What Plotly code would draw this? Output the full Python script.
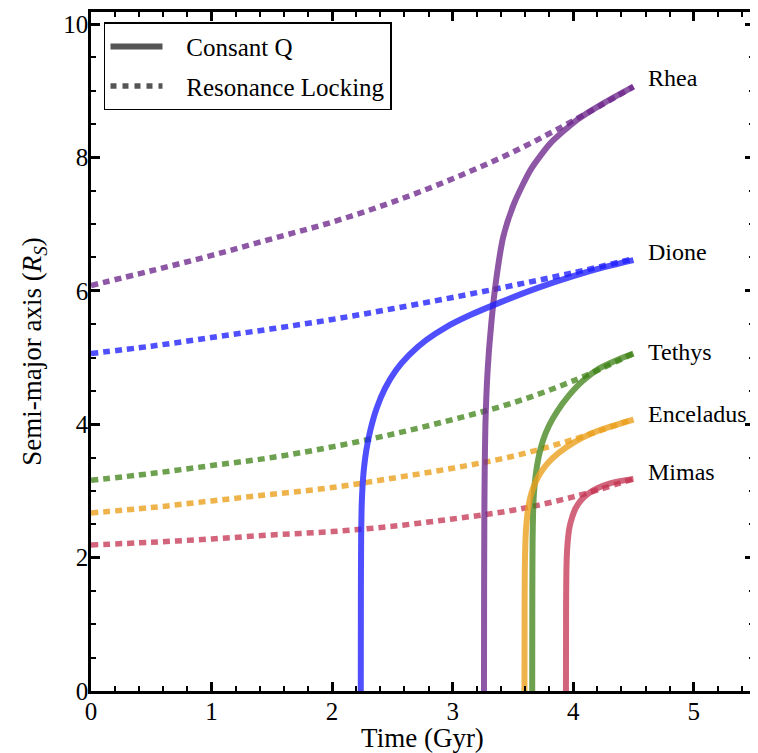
import plotly.graph_objects as go

# ---------------- data ----------------
moons = ["Rhea", "Dione", "Tethys", "Enceladus", "Mimas"]
colors = {
    "Rhea": "rgba(110,40,140,0.78)",
    "Dione": "rgba(30,30,255,0.78)",
    "Tethys": "rgba(60,130,20,0.75)",
    "Enceladus": "rgba(235,160,30,0.80)",
    "Mimas": "rgba(195,50,80,0.75)",
}

# Resonance locking (dashed)
t_rl = [0.0, 0.5, 1.0, 1.5, 2.0, 2.5, 3.0, 3.5, 4.0, 4.5]
rl_rhea = [6.08, 6.30, 6.53, 6.78, 7.03, 7.33, 7.68, 8.08, 8.55, 9.06]
rl_dione = [5.06, 5.17, 5.30, 5.43, 5.57, 5.73, 5.90, 6.08, 6.27, 6.48]
rl_tethys = [3.16, 3.26, 3.38, 3.50, 3.66, 3.85, 4.07, 4.32, 4.65, 5.06]
rl_enceladus = [2.67, 2.75, 2.85, 2.95, 3.05, 3.19, 3.34, 3.52, 3.77, 4.08]
rl_mimas = [2.19, 2.23, 2.28, 2.34, 2.39, 2.47, 2.58, 2.71, 2.91, 3.18]

# Constant Q (solid)
cq_rhea_t = [3.260, 3.261, 3.263, 3.266, 3.272, 3.290, 3.320, 3.360, 3.420, 3.510, 3.645, 3.810, 4.030, 4.250, 4.500]
cq_rhea_a = [0.00, 1.50, 2.60, 3.30, 4.00, 4.80, 5.50, 6.15, 6.81, 7.31, 7.81, 8.21, 8.56, 8.81, 9.06]
cq_dione_t = [2.238, 2.239, 2.241, 2.245, 2.252, 2.265, 2.285, 2.320, 2.370, 2.440, 2.530, 2.640, 2.780, 2.950, 3.150, 3.400, 3.700, 4.000, 4.250, 4.500]
cq_dione_a = [0.00, 1.50, 2.30, 2.75, 3.05, 3.35, 3.62, 3.93, 4.24, 4.54, 4.81, 5.04, 5.26, 5.46, 5.64, 5.83, 6.04, 6.22, 6.35, 6.46]
cq_tethys_t = [3.660, 3.661, 3.663, 3.667, 3.675, 3.690, 3.715, 3.750, 3.800, 3.870, 3.960, 4.080, 4.220, 4.360, 4.500]
cq_tethys_a = [0.00, 1.50, 2.20, 2.65, 2.98, 3.25, 3.52, 3.76, 3.98, 4.20, 4.42, 4.65, 4.84, 4.96, 5.06]
cq_enceladus_t = [3.596, 3.597, 3.599, 3.603, 3.611, 3.625, 3.648, 3.680, 3.725, 3.790, 3.880, 4.000, 4.150, 4.320, 4.500]
cq_enceladus_a = [0.00, 1.30, 1.85, 2.20, 2.48, 2.72, 2.93, 3.10, 3.26, 3.42, 3.57, 3.72, 3.86, 3.97, 4.07]
cq_mimas_t = [3.940, 3.941, 3.943, 3.947, 3.955, 3.968, 3.990, 4.020, 4.065, 4.125, 4.200, 4.300, 4.400, 4.500]
cq_mimas_a = [0.00, 1.20, 1.70, 2.02, 2.25, 2.44, 2.60, 2.74, 2.86, 2.96, 3.04, 3.11, 3.15, 3.18]

label_t = 4.6
label_a = [9.19, 6.58, 5.08, 4.16, 3.28]

x_ticks = [0, 1, 2, 3, 4, 5]
y_ticks = [0, 2, 4, 6, 8, 10]

rl = {"Rhea": rl_rhea, "Dione": rl_dione, "Tethys": rl_tethys,
      "Enceladus": rl_enceladus, "Mimas": rl_mimas}
cq = {"Rhea": (cq_rhea_t, cq_rhea_a), "Dione": (cq_dione_t, cq_dione_a),
      "Tethys": (cq_tethys_t, cq_tethys_a), "Enceladus": (cq_enceladus_t, cq_enceladus_a),
      "Mimas": (cq_mimas_t, cq_mimas_a)}

FONT = "Liberation Serif, Times New Roman, serif"
DASH = "7px,5px"
NB = "\u00a0\u00a0\u00a0"

fig = go.Figure()

for m in moons:
    fig.add_trace(go.Scatter(x=t_rl, y=rl[m], mode="lines", showlegend=False,
                             line=dict(color=colors[m], width=5.5, dash=DASH, shape="spline")))
for m in moons:
    t, a = cq[m]
    fig.add_trace(go.Scatter(x=t, y=a, mode="lines", showlegend=False,
                             line=dict(color=colors[m], width=6, shape="spline", smoothing=0.6)))

# legend proxies
fig.add_trace(go.Scatter(x=[None], y=[None], mode="lines", name=NB + "Consant Q",
                         legendgroup="a",
                         line=dict(color="#555555", width=6)))
fig.add_trace(go.Scatter(x=[None], y=[None], mode="lines", name=NB + "Resonance Locking",
                         legendgroup="b",
                         line=dict(color="#555555", width=5.5, dash="6px,6px")))

for m, ya in zip(moons, label_a):
    fig.add_annotation(x=label_t, y=ya, text=m, showarrow=False, xanchor="left",
                       yanchor="middle", font=dict(family=FONT, size=24, color="black"))

axis_common = dict(
    showgrid=False, zeroline=False, showline=True, linecolor="black", linewidth=2.5,
    mirror="allticks", ticks="inside", ticklen=9, tickwidth=2.5, tickcolor="black",
    tickfont=dict(family=FONT, size=25, color="black"), automargin=False,
)
fig.update_xaxes(range=[0, 5.5], tickvals=x_ticks, ticklabelstandoff=-4,
                 minor=dict(dtick=0.2, ticks="inside", ticklen=5, tickwidth=1.5, tickcolor="black"),
                 title=dict(text="Time (Gyr)", font=dict(family=FONT, size=27, color="black"), standoff=2),
                 **axis_common)
fig.update_yaxes(range=[0, 10.18], tickvals=y_ticks, ticklabelstandoff=-5,
                 minor=dict(dtick=0.5, ticks="inside", ticklen=5, tickwidth=1.5, tickcolor="black"),
                 title=dict(text="Semi-major axis (<i>R</i><sub><i>S</i></sub>)",
                            font=dict(family=FONT, size=27, color="black"), standoff=14),
                 **axis_common)

fig.update_layout(
    width=750, height=745,
    margin=dict(l=83, r=4, t=4, b=62),
    paper_bgcolor="white", plot_bgcolor="white",
    legend=dict(x=0.0196, y=0.985, xanchor="left", yanchor="top",
                bgcolor="white", bordercolor="black", borderwidth=1.5,
                font=dict(family=FONT, size=25, color="black"),
                itemwidth=52, tracegroupgap=4),
    font=dict(family=FONT),
)

fig.write_html("out.html")
